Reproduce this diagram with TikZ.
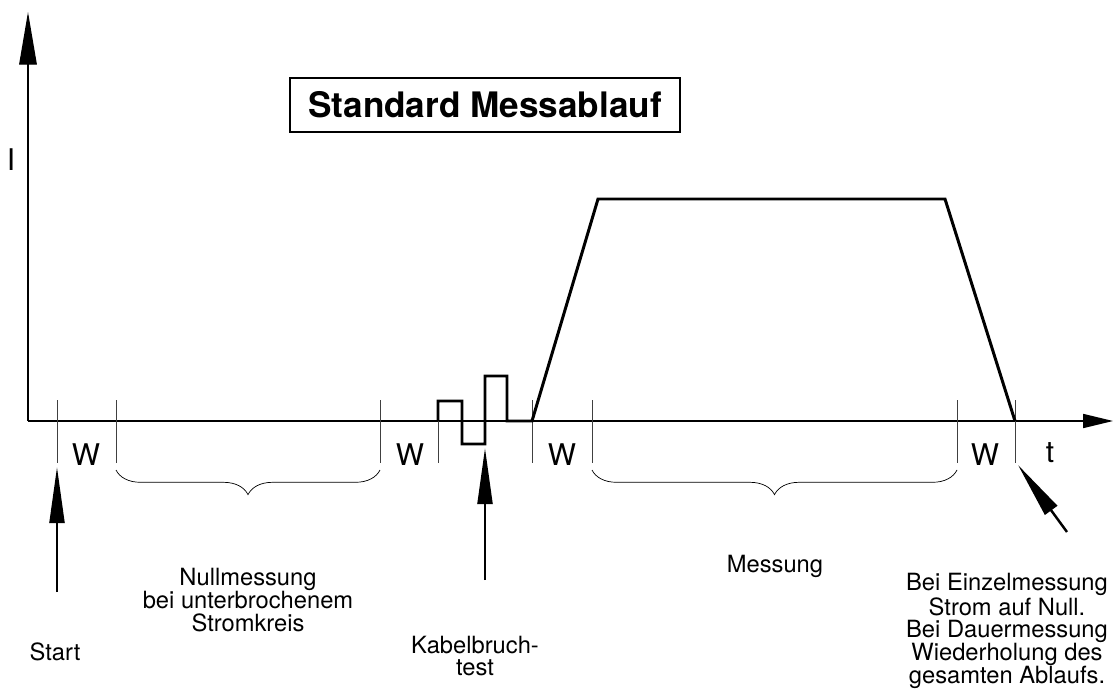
\documentclass[tikz,border=0pt]{standalone}
\usepackage{fontspec}
\setmainfont{TeX Gyre Heros}
\usetikzlibrary{arrows.meta,decorations.pathreplacing}

\begin{document}
\begin{tikzpicture}[x=0.02cm,y=-0.02cm,
  axis/.style={line width=0.8pt,-{Triangle[length=17pt,width=8pt]}},
  tickline/.style={line width=0.5pt,draw=black!75},
  curve/.style={line width=1.7pt,line join=miter},
  pointer/.style={line width=1.4pt,-{Triangle[length=32pt,width=8.5pt]}},
  lbl/.style={font=\fontsize{13.5}{13}\selectfont,align=center,inner sep=0pt},
  wlbl/.style={font=\fontsize{17}{19}\selectfont,inner sep=0pt},
  bracedown/.style={decorate,decoration={brace,mirror,amplitude=14pt},line width=0.4pt}]
\useasboundingbox (0,0) rectangle (1113,693);
% axes
\coordinate (origin) at (28,421);
\draw[axis,-{Triangle[length=30pt,width=10pt]}] (origin) -- (28,12) coordinate (ytip);
\draw[axis] (origin) -- (1113,421) coordinate (xtip);
\node[wlbl] (ilabel) at (11,160) {I};
\node[wlbl] (tlabel) at (1050,453) {t};
% title
\node[draw,line width=1.1pt,minimum width=7.8cm,minimum height=1.08cm,
  font=\bfseries\fontsize{20}{24}\selectfont] (title) at (485,105) {Standard Messablauf};
% phase boundaries
\foreach \x/\n in {57/b1,116/b2,380/b3,438/b4,532/b5,592/b6,957/b7,1015/b8}
  \draw[tickline] (\x,400) coordinate (\n top) -- (\x,463) coordinate (\n bot);
\foreach \x in {86,410,562,985}
  \node[wlbl] at (\x,455) {W};
% current
\draw[curve] (438,421) -- (438,401) -- (462,401) -- (462,444) -- (485,444)
  -- (485,376) -- (507,376) -- (507,421) -- (532,421) coordinate (rampstart)
  -- (598,199) -- (945,199) -- (1015,421) coordinate (rampend);
% braces
\draw[bracedown] (116,470) -- (380,470);
\draw[bracedown] (592,470) -- (957,470);
% labels
\node[lbl] (null) at (248,600) {Nullmessung\\bei unterbrochenem\\Stromkreis};
\node[lbl] (mess) at (775,566) {Messung};
\node[lbl] (kabel) at (475,656) {Kabelbruch-\\test};
\node[lbl] (start) at (55,652) {Start};
\node[lbl] (einzel) at (1007,631) {Bei Einzelmessung\\Strom auf Null.\\Bei Dauermessung\\Wiederholung des\\gesamten Ablaufs.};
% pointers
\coordinate (starttail) at (57,592);
\coordinate (starttip) at (57,467);
\coordinate (kabeltail) at (485,580);
\coordinate (kabeltip) at (485,448);
\coordinate (endtail) at (1067,532);
\coordinate (endtip) at (1018,465);
\draw[pointer] (starttail) -- (starttip);
\draw[pointer] (kabeltail) -- (kabeltip);
\draw[pointer] (endtail) -- (endtip);
\end{tikzpicture}
\end{document}
